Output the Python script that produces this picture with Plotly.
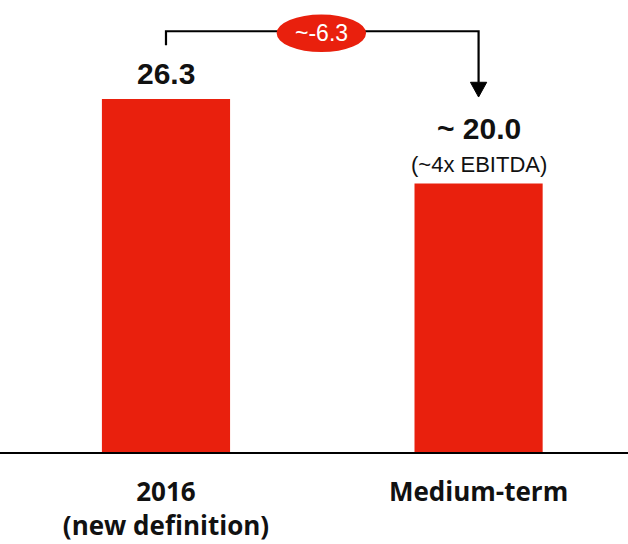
import plotly.graph_objects as go

# Net debt, EUR bn
categories = ["2016<br>(new definition)", "Medium-term"]
values = [26.3, 20.0]
value_labels = ["26.3", "~ 20.0"]
sub_labels = ["", "(~4x EBITDA)"]
change_label = "~-6.3"

RED = "#E9200D"
x_pos = [0, 1]

fig = go.Figure()
fig.add_trace(go.Bar(
    x=x_pos, y=values, width=0.41,
    marker=dict(color=RED, line=dict(width=0)),
    hoverinfo="skip",
))

# value labels above the bars
for xi, v, lab, sub in zip(x_pos, values, value_labels, sub_labels):
    if sub:
        fig.add_annotation(x=xi, y=v, yref="y", text=sub, showarrow=False,
                           yanchor="bottom", yshift=5,
                           font=dict(family="Liberation Sans", size=22, color="#111"))
        fig.add_annotation(x=xi, y=v, yref="y", text=f"<b>{lab}</b>", showarrow=False,
                           yanchor="bottom", yshift=37,
                           font=dict(family="Liberation Sans", size=30, color="#111"))
    else:
        fig.add_annotation(x=xi, y=v, yref="y", text=f"<b>{lab}</b>", showarrow=False,
                           yanchor="bottom", yshift=7,
                           font=dict(family="Liberation Sans", size=30, color="#111"))

# bracket from the first bar down to the second, with arrowhead
y_top = values[0] + 5.05
y_start = values[0] + 4.0
y_tip = values[1] + 6.45
y_head = y_tip + 1.1
hw = 0.026
fig.add_shape(type="path",
              path=f"M {x_pos[0]},{y_start} V {y_top} H {x_pos[1]} V {y_head}",
              line=dict(color="black", width=2.2), layer="above")
fig.add_shape(type="path",
              path=f"M {x_pos[1]-hw},{y_head} L {x_pos[1]+hw},{y_head} L {x_pos[1]},{y_tip} Z",
              fillcolor="black", line=dict(color="black", width=1), layer="above")

# change bubble
cx = 0.497
fig.add_shape(type="circle", x0=cx - 0.143, x1=cx + 0.143,
              y0=y_top - 1.55, y1=y_top + 1.25,
              fillcolor=RED, line=dict(width=0), layer="above")
fig.add_annotation(x=cx, y=y_top - 0.15, text=change_label, showarrow=False,
                   font=dict(family="Liberation Sans", size=23, color="white"))

fig.update_layout(
    width=628, height=544,
    margin=dict(l=0, r=0, t=0, b=92),
    paper_bgcolor="white", plot_bgcolor="white",
    showlegend=False,
    xaxis=dict(range=[-0.531, 1.478], tickvals=x_pos,
               ticktext=[f"<b>{c}</b>" for c in categories],
               tickfont=dict(family="Open Sans", size=26, color="#111"),
               showline=True, linecolor="black", linewidth=2,
               showgrid=False, zeroline=False, ticks="", ticklabelstandoff=16,
               fixedrange=True),
    yaxis=dict(range=[0, 33.68], visible=False, showgrid=False, fixedrange=True),
)

fig.write_html("out.html")
